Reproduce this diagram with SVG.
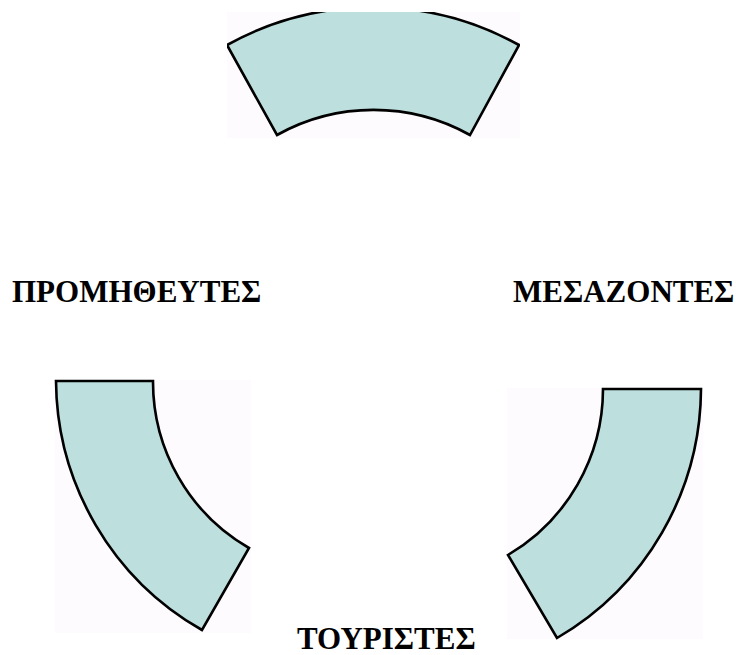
<svg xmlns="http://www.w3.org/2000/svg" width="736" height="655" viewBox="0 0 736 655">
  <style>
    .panel { fill: #fdfbfe; }
    .band { fill: #bddfdd; stroke: #000; stroke-width: 2.6; stroke-linejoin: miter; }
    .label { font-family: "Liberation Serif", "Times New Roman", serif; font-weight: bold; font-size: 31px; fill: #000; }
  </style>
  <defs>
    <clipPath id="clip-top"><rect x="227" y="12" width="293" height="126"/></clipPath>
  </defs>
  <rect width="736" height="655" fill="#fff"/>

  <!-- upper ring segment -->
  <g id="segment-top">
    <rect class="panel" x="227" y="12" width="293" height="126"/>
    <path class="band" clip-path="url(#clip-top)" d="M227,45 A301,301 0 0 1 519,45 L470,135 A198,198 0 0 0 277,135 Z"/>
  </g>

  <!-- lower-left ring segment -->
  <g id="segment-left">
    <rect class="panel" x="55" y="380" width="196" height="253"/>
    <path class="band" d="M56,381 L153,381 A192,192 0 0 0 249,548 L202,630 A289,289 0 0 1 56,381 Z"/>
  </g>

  <!-- lower-right ring segment -->
  <g id="segment-right">
    <rect class="panel" x="507" y="388" width="196" height="251"/>
    <path class="band" d="M603,389 L701,389 A290,290 0 0 1 557,638 L508,555 A193,193 0 0 0 603,389 Z"/>
  </g>

  <g id="label-suppliers"><text class="label" x="12" y="302">ΠΡΟΜΗΘΕΥΤΕΣ</text></g>
  <g id="label-intermediaries"><text class="label" x="513" y="302">ΜΕΣΑΖΟΝΤΕΣ</text></g>
  <g id="label-tourists"><text class="label" x="297" y="649">ΤΟΥΡΙΣΤΕΣ</text></g>
</svg>
